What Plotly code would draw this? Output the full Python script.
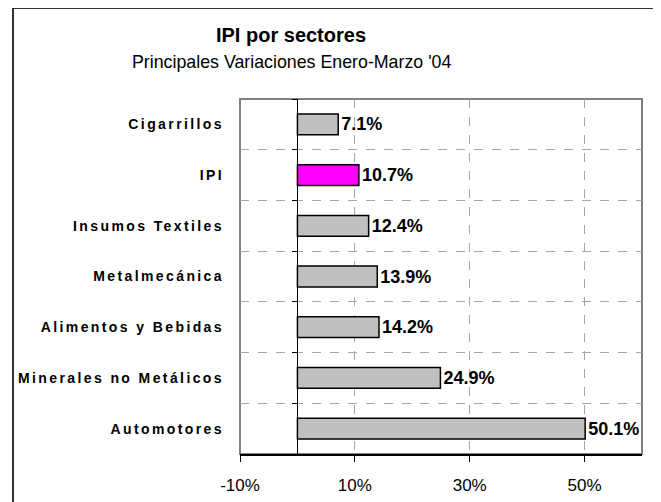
import plotly.graph_objects as go

categories = ["Cigarrillos", "IPI", "Insumos Textiles", "Metalmecánica",
              "Alimentos y Bebidas", "Minerales no Metálicos", "Automotores"]
values = [7.1, 10.7, 12.4, 13.9, 14.2, 24.9, 50.1]
bar_colors = ["#C0C0C0", "#FF00FF", "#C0C0C0", "#C0C0C0", "#C0C0C0", "#C0C0C0", "#C0C0C0"]
x_ticks = [-10, 10, 30, 50]
x_tick_labels = ["-10%", "10%", "30%", "50%"]
title_text = "IPI por sectores"
subtitle_text = "Principales Variaciones Enero-Marzo '04"

X_RANGE = [-10, 60]
# page body has an 8px margin; figure coordinates are screen coordinates - 8
W, H = 653, 494
ML, MR, MT, MB = 232, 19, 91, 48
pw = W - ML - MR
ph = H - MT - MB

FONT = "Liberation Sans, Arial, sans-serif"

fig = go.Figure()
fig.add_trace(go.Bar(
    x=values, y=categories, orientation="h",
    marker=dict(color=bar_colors, line=dict(color="black", width=1.5)),
    width=0.41,
    text=[f"{v:.1f}%" for v in values], textposition="outside",
    textfont=dict(family=FONT, size=18, color="black", weight="bold"),
    cliponaxis=False, yaxis="y", hoverinfo="skip",
))

zero_pos = (0 - X_RANGE[0]) / (X_RANGE[1] - X_RANGE[0])
ticktext = [f'<span style="letter-spacing:2.4px">{c}</span>' for c in categories]

fig.update_layout(
    width=W, height=H,
    margin=dict(l=ML, r=MR, t=MT, b=MB, autoexpand=False),
    paper_bgcolor="white", plot_bgcolor="white",
    showlegend=False,
    font=dict(family=FONT, color="black"),
    title=dict(text=f"<b>{title_text}</b>", font=dict(family=FONT, size=20, color="black"),
               x=(283 - ML) / pw, xref="paper", xanchor="center",
               y=1 - 27 / H, yref="container", yanchor="middle"),
    xaxis=dict(range=X_RANGE, tickvals=x_ticks, ticktext=x_tick_labels,
               showgrid=True, gridcolor="#A6A6A6", griddash="dash", gridwidth=1,
               zeroline=False, showline=True, linecolor="black", linewidth=1.5,
               ticks="outside", ticklen=6, tickcolor="black", tickwidth=1,
               ticklabelstandoff=9,
               tickfont=dict(family=FONT, size=17, color="black"), fixedrange=True),
    yaxis=dict(type="category", categoryarray=categories, categoryorder="array",
               range=[6.5, -0.5], tickvals=categories, ticktext=ticktext,
               tickson="boundaries", showgrid=True, gridcolor="#A6A6A6",
               griddash="dash", gridwidth=1, ticks="", showline=False, zeroline=False,
               ticklabelstandoff=15,
               tickfont=dict(family=FONT, size=14, color="black", weight="bold"),
               fixedrange=True),
    yaxis2=dict(type="category", categoryarray=categories, categoryorder="array",
                range=[6.5, -0.5], overlaying="y", anchor="free", position=zero_pos,
                side="left", tickson="boundaries", showgrid=False, showticklabels=False,
                ticks="outside", ticklen=5, tickcolor="black", tickwidth=1,
                showline=True, linecolor="black", linewidth=1.2, zeroline=False,
                fixedrange=True),
    annotations=[dict(text=subtitle_text, xref="paper", yref="paper",
                      x=(283 - ML) / pw, y=(H - MB - 54.5) / ph,
                      xanchor="center", yanchor="middle", showarrow=False,
                      font=dict(family=FONT, size=17.8, color="black"))],
    shapes=[
        dict(type="rect", xref="x domain", yref="y domain", x0=0, x1=1, y0=0, y1=1,
             line=dict(color="#808080", width=2), layer="below"),
        dict(type="rect", xref="paper", yref="paper",
             x0=(5 - ML) / pw, x1=1.3, y0=(H - MB - 0) / ph, y1=-0.4,
             line=dict(color="#333333", width=2), layer="above"),
    ],
)
# dummy invisible trace so yaxis2 is drawn
fig.add_trace(go.Scatter(x=[None], y=[None], yaxis="y2", showlegend=False, hoverinfo="skip"))

fig.write_html("out.html")
